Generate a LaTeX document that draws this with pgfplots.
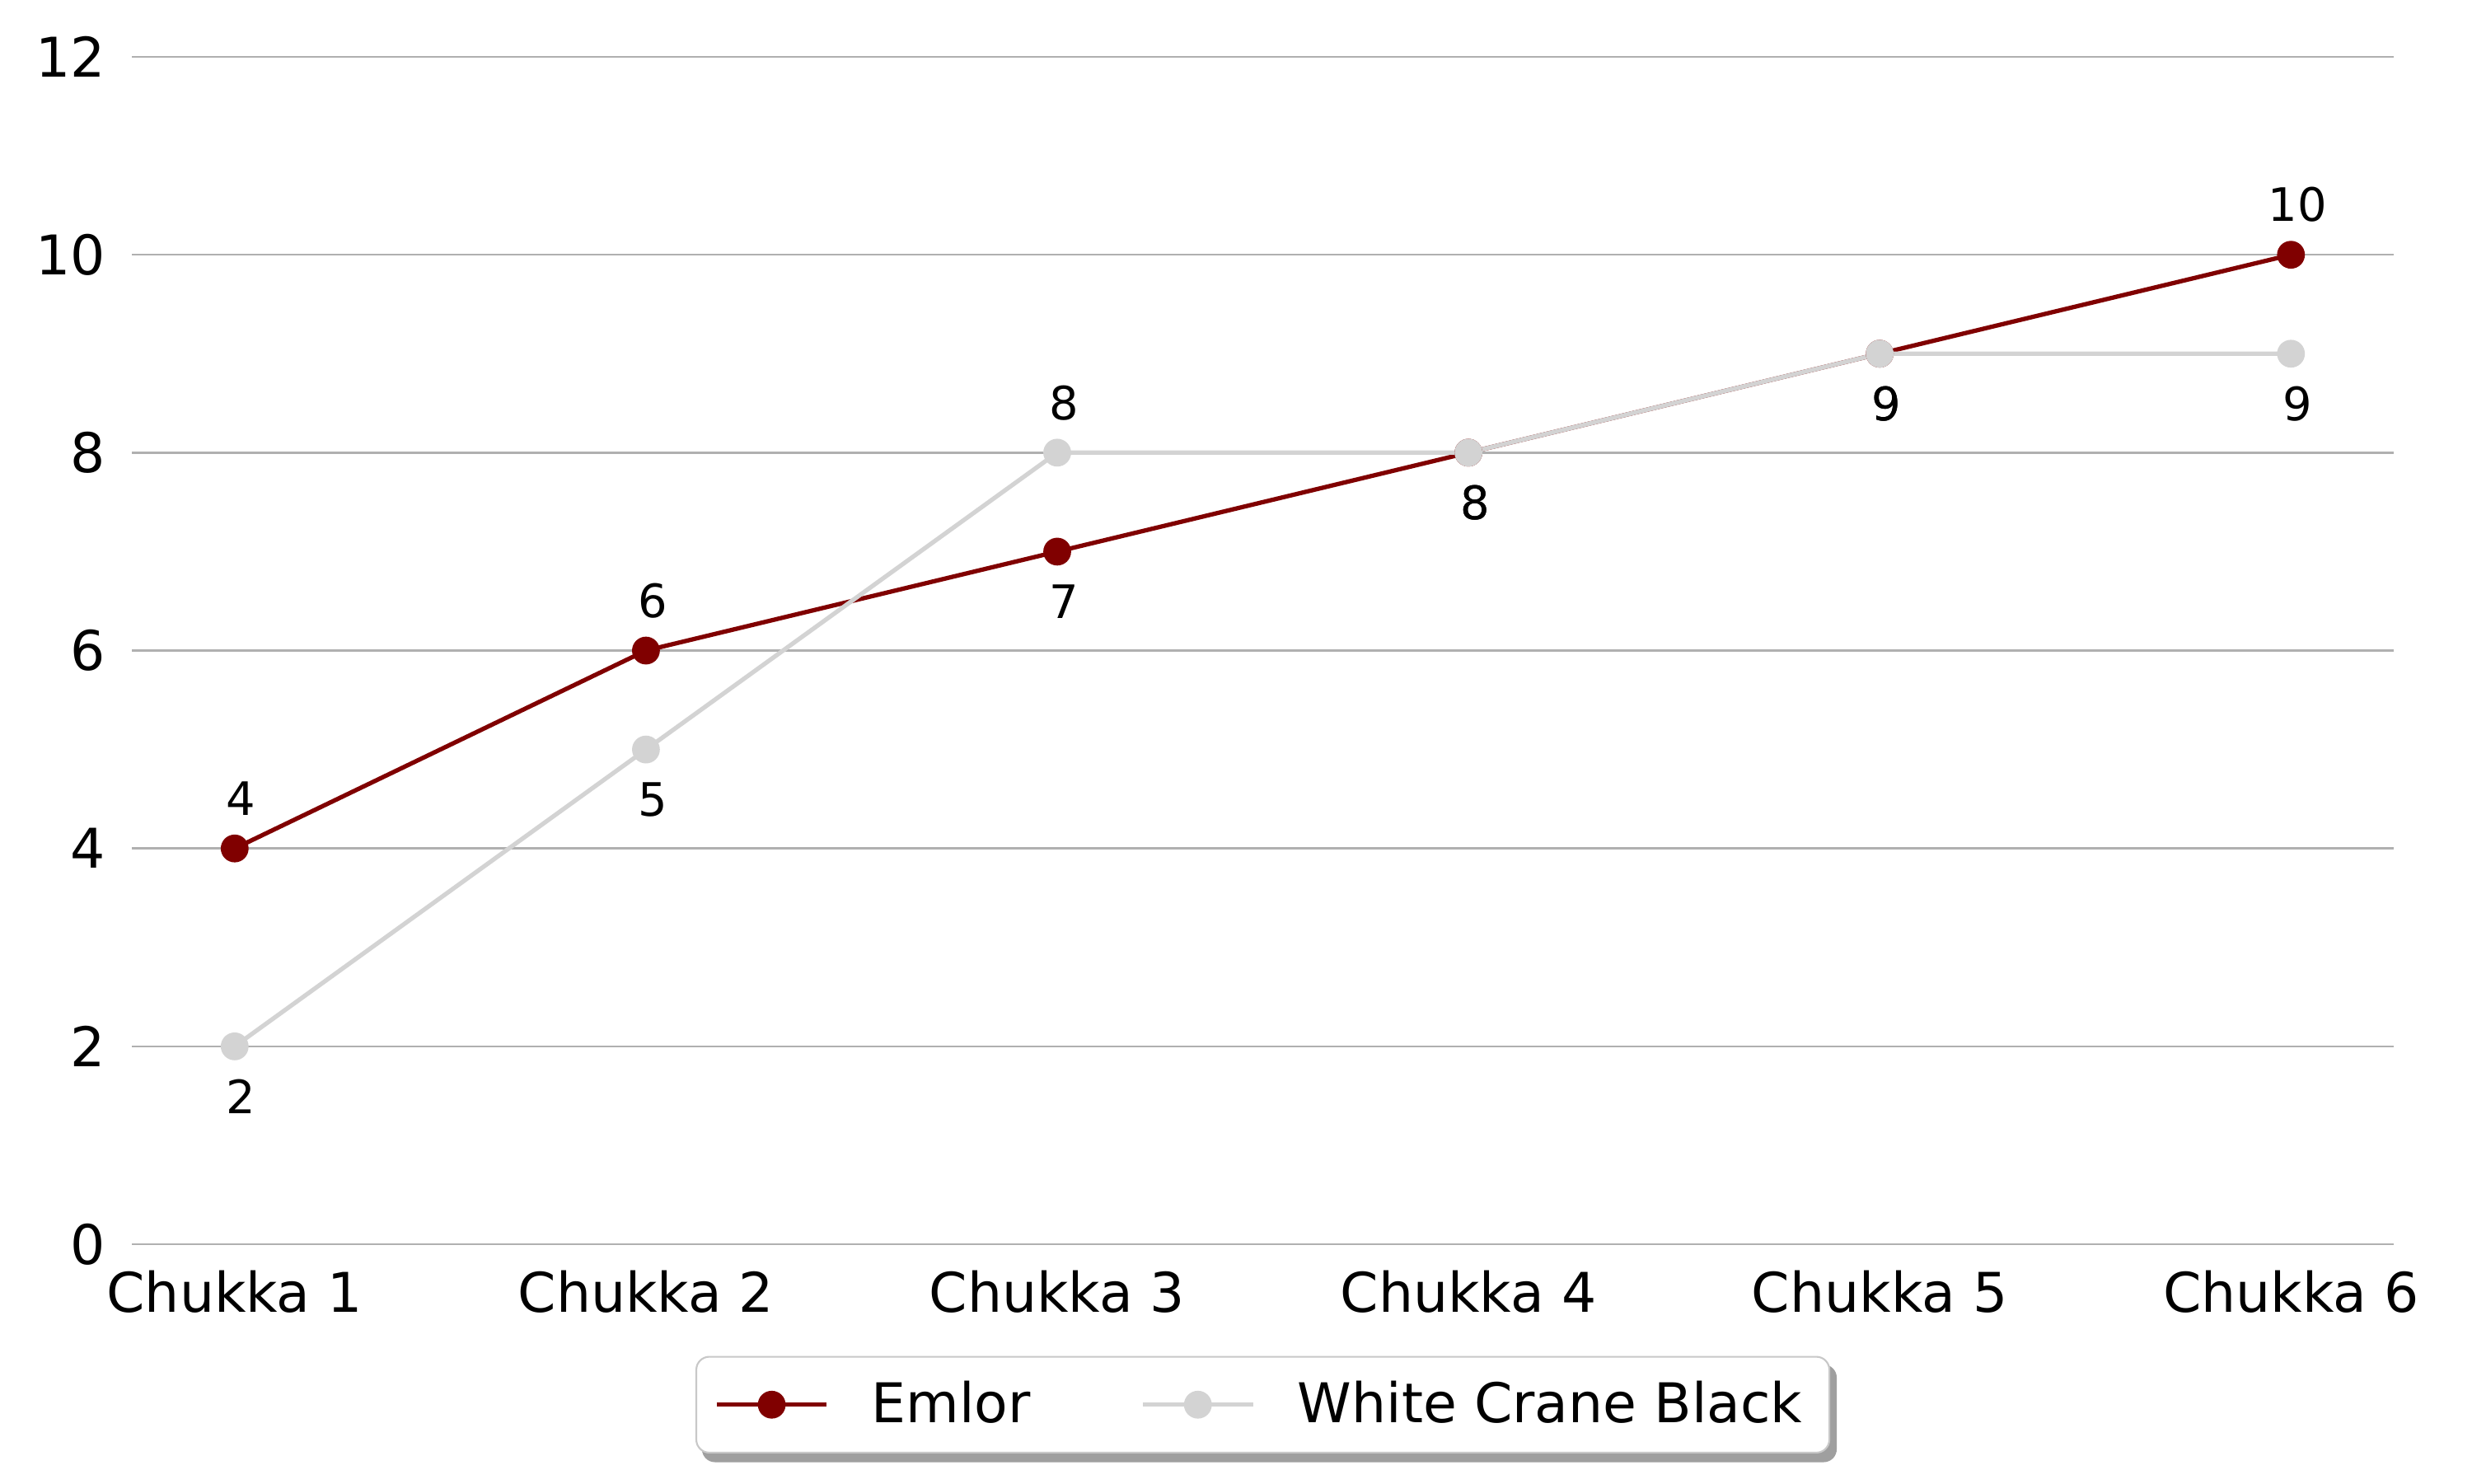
\documentclass[border=0pt]{standalone}
\usepackage{fontspec}
\setmainfont{DejaVu Sans}
\usepackage{pgfplots}
\pgfplotsset{compat=1.18}
\usepackage{pgfplotstable}
\usetikzlibrary{backgrounds}
\definecolor{emlor}{HTML}{800000}
\definecolor{wcb}{HTML}{D3D3D3}
\definecolor{gridc}{HTML}{B0B0B0}

\pgfplotstableread{
x y pos
0 4 1
1 6 1
2 7 -1
3 8 -1
4 9 -1
5 10 1
}\emlordata
\pgfplotstableread{
x y pos
0 2 -1
1 5 -1
2 8 1
3 8 -1
4 9 -1
5 9 -1
}\wcbdata

\begin{document}
\begin{tikzpicture}
\useasboundingbox (0,0) rectangle (20cm,12cm);
\begin{axis}[
  at={(1.067cm,1.933cm)}, anchor=south west,
  width=18.30cm, height=9.607cm, scale only axis,
  xmin=-0.25, xmax=5.25, ymin=0, ymax=12,
  xtick={0,1,2,3,4,5},
  xticklabels={Chukka 1,Chukka 2,Chukka 3,Chukka 4,Chukka 5,Chukka 6},
  ytick={0,2,4,6,8,10,12},
  axis line style={draw=none},
  major tick style={draw=none},
  ymajorgrids,
  grid style={color=gridc, line width=0.5pt},
  tick label style={font=\fontsize{12.6}{15}\selectfont},
  xticklabel style={yshift=-2.5pt},
  yticklabel style={xshift=-2.5pt},
  /pgf/number format/assume math mode=true,
  clip=false,
  legend columns=2,
  legend style={
    name=leg,
    at={(0.5,-0.094)}, anchor=north,
    draw=gridc!70, rounded corners=3pt, fill=white,
    font=\fontsize{12.6}{15}\selectfont,
    inner xsep=4.2pt, inner ysep=3.5pt,
    /tikz/every odd column/.append style={column sep=0.275cm},
    /tikz/every even column/.append style={column sep=0.82cm},
  },
  legend image code/.code={
    \draw[mark repeat=2, mark phase=2] plot coordinates {(0cm,0cm) (0.445cm,0cm) (0.89cm,0cm)};
  },
  every node near coord/.append style={
    anchor=center, text=black, xshift=1.5pt,
    font=\fontsize{10.6}{12.5}\selectfont},
]
\addplot[color=emlor, line width=1pt, mark=*, mark size=2.7pt,
  mark options={fill=emlor, draw=emlor},
  nodes near coords,
  visualization depends on={\thisrow{pos}\as\pos},
  every node near coord/.append style={yshift=\pos*11.5pt}]
  table[x=x, y=y] {\emlordata};
\addlegendentry{Emlor}
\addplot[color=wcb, line width=1pt, mark=*, mark size=2.7pt,
  mark options={fill=wcb, draw=wcb},
  nodes near coords,
  visualization depends on={\thisrow{pos}\as\pos},
  every node near coord/.append style={yshift=\pos*11.5pt}]
  table[x=x, y=y] {\wcbdata};
\addlegendentry{White Crane Black}
\end{axis}
\begin{pgfonlayer}{background}
  \fill[gray!75, rounded corners=3pt]
    ([xshift=1.5pt,yshift=-2pt]leg.south west) rectangle ([xshift=1.5pt,yshift=-2pt]leg.north east);
\end{pgfonlayer}
\end{tikzpicture}
\end{document}
